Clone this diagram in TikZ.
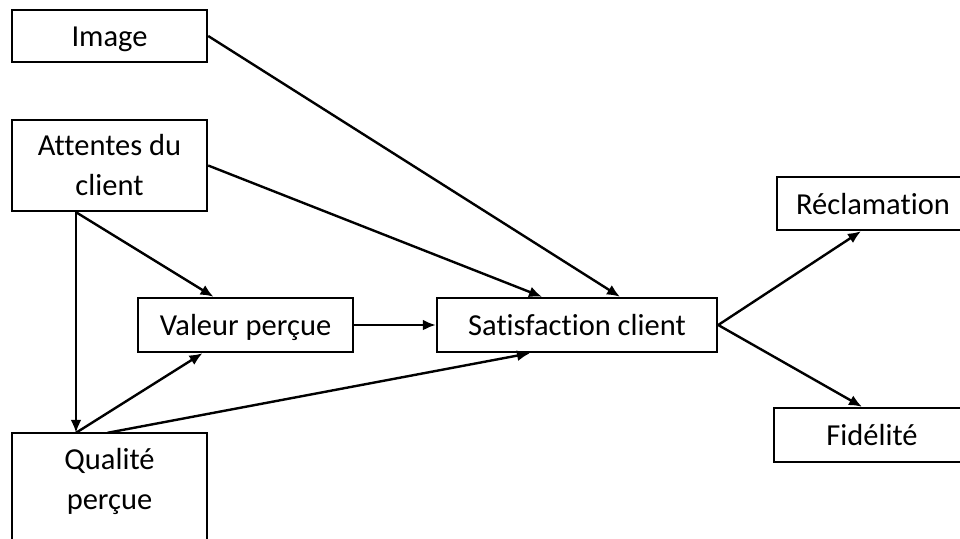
\documentclass[tikz,border=0pt]{standalone}
\usepackage{fontspec}
\setmainfont[Ligatures={NoCommon}]{Carlito}
\usetikzlibrary{arrows.meta}
\begin{document}
\begin{tikzpicture}[x=1pt,y=-1pt,
  box/.style={draw,line width=2.4pt,inner sep=0pt,align=center,font=\fontsize{30.5}{40}\selectfont},
  oneline/.style={text height=27pt,text depth=6pt},
  openbox/.style={inner sep=0pt,align=center,font=\fontsize{30.5}{40}\selectfont},
  link/.style={line width=2.4pt,-{Latex[length=13pt,width=11pt]}}]
\clip (0,0) rectangle (960,538);
\fill[white] (0,0) rectangle (960,538);
\node[box,oneline,minimum width=195pt,minimum height=52pt] (img) at (109.5,36) {Image};
\node[box,minimum width=195pt,minimum height=91pt] (att) at (109.5,165.5) {Attentes du\\client};
\node[box,oneline,minimum width=215pt,minimum height=54pt] (val) at (245.5,325) {Valeur perçue};
\node[box,oneline,minimum width=280pt,minimum height=54pt] (sat) at (577,325) {Satisfaction client};
\node[box,oneline,minimum width=192pt,minimum height=53pt] (rec) at (873,203.5) {Réclamation};
\node[box,oneline,minimum width=196pt,minimum height=54pt] (fid) at (872,435) {Fidélité};
\node[openbox,minimum width=195pt,minimum height=96pt] (qual) at (109.5,481) {Qualité\\perçue};
\draw[line width=2.4pt] ([yshift=-30pt]qual.south west) -- (qual.north west) -- (qual.north east) -- ([yshift=-30pt]qual.south east);
\coordinate (attb) at ([xshift=-33.5pt]att.south);
\coordinate (qualt) at ([xshift=-33.5pt]qual.north);
\draw[link] (img.east) -- ([xshift=43pt]sat.north);
\draw[link] (att.east) -- ([xshift=-35pt]sat.north);
\draw[link] (attb) -- (qualt);
\draw[link] (attb) -- ([xshift=-32pt]val.north);
\draw[link] (qualt) -- ([xshift=-43pt]val.south);
\draw[link] ([xshift=-2pt]qual.north) -- ([xshift=-47pt]sat.south);
\draw[link] (val.east) -- (sat.west);
\draw[link] (sat.east) -- ([xshift=-12pt]rec.south);
\draw[link] (sat.east) -- ([xshift=-10pt]fid.north);
\end{tikzpicture}
\end{document}
